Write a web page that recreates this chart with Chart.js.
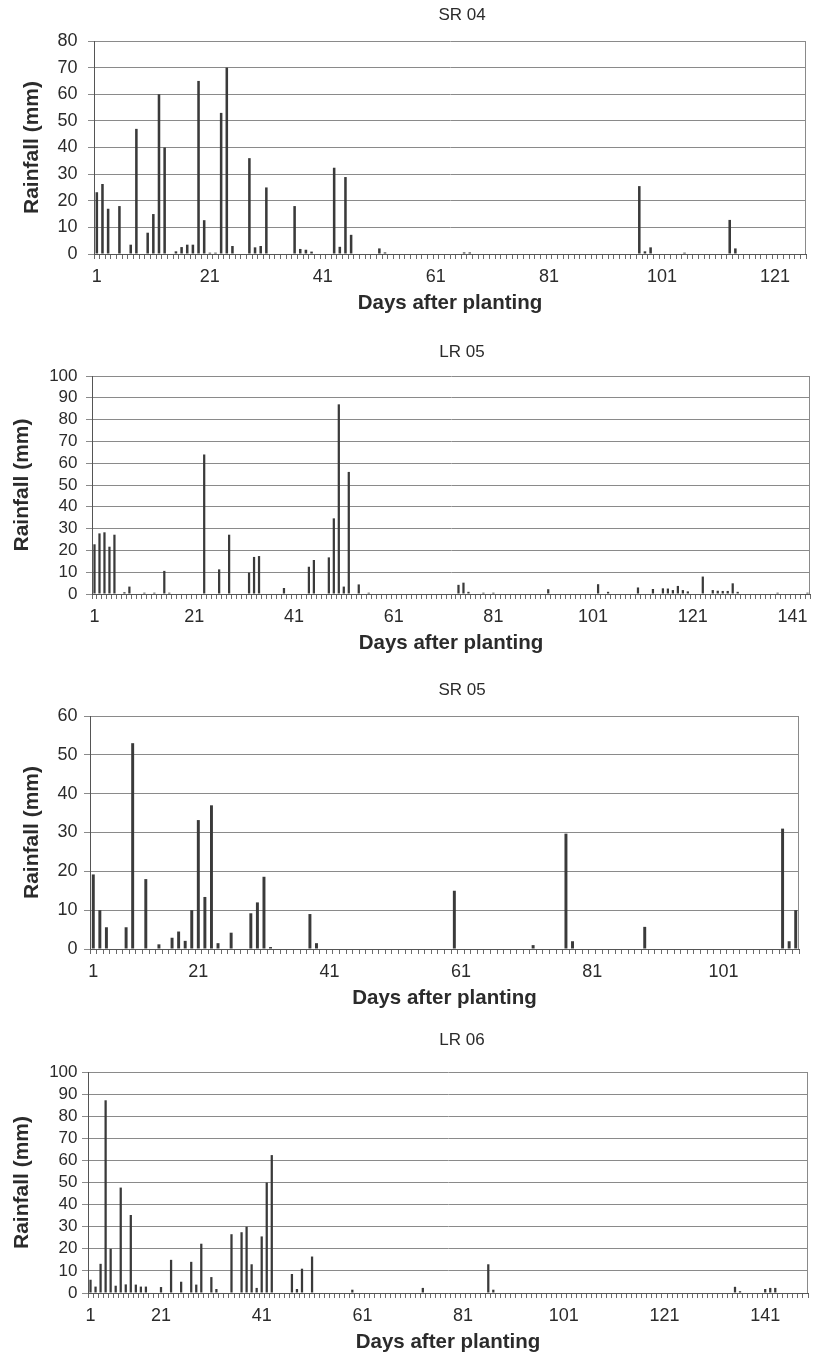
<!DOCTYPE html>
<html lang="en">
<head>
<meta charset="utf-8">
<title>Rainfall (mm) by days after planting</title>
<script src="https://cdn.jsdelivr.net/npm/chart.js@4.4.1/dist/chart.umd.min.js"></script>
<style>
  html, body { margin: 0; padding: 0; background: #ffffff; }
  #page { position: relative; width: 818px; height: 1355px; overflow: hidden; }
  .panel { position: absolute; left: 0; width: 818px; }
</style>
</head>
<body>
<div id="page"></div>
<script>
'use strict';

// ── Data: rainy days and rainfall (mm) ──
const TICK_DAYS = [1, 21, 41, 61, 81, 101, 121, 141];

// SR 04
const sr04Days = [1, 2, 3, 5, 7, 8, 10, 11, 12, 13, 15, 16, 17, 18, 19, 20, 21, 22, 23, 24,
                  25, 28, 29, 30, 31, 36, 37, 38, 39, 43, 44, 45, 46, 51, 52, 66, 67, 97, 98, 99,
                  105, 113, 114];
const sr04Rain = [23.2, 26.3, 17, 18, 3.5, 47, 8, 15, 60, 40, 1, 2.6, 3.5, 3.5, 65, 12.7, 0.5, 0.5, 53, 70,
                  3, 36, 2.5, 3, 25, 18, 1.9, 1.6, 0.9, 32.4, 2.7, 28.9, 7.2, 2.1, 0.6, 0.6, 0.6, 25.5, 1, 2.5,
                  0.5, 12.8, 2.1];
const sr04Gaps = [];

// LR 05
const lr05Days = [1, 2, 3, 4, 5, 7, 8, 11, 13, 15, 16, 23, 26, 28, 32, 33, 34, 39, 44, 45,
                  48, 49, 50, 51, 52, 54, 56, 74, 75, 76, 79, 81, 92, 102, 104, 110, 113, 115, 116, 117,
                  118, 119, 120, 123, 125, 126, 127, 128, 129, 130, 138, 144];
const lr05Rain = [22.8, 27.8, 28.3, 21.7, 27.2, 0.8, 3.4, 0.6, 0.6, 10.6, 0.6, 64, 11.3, 27.2, 9.8, 17, 17.4, 2.75, 12.5, 15.6,
                  16.8, 34.7, 87, 3.4, 56, 4.4, 0.6, 4.2, 5.2, 1, 0.6, 0.6, 2.2, 4.5, 1, 3, 2.3, 2.6, 2.5, 1.8,
                  3.7, 1.8, 1.2, 8, 1.8, 1.5, 1.4, 1.4, 4.9, 1, 0.6, 0.6];
const lr05Gaps = [];

// SR 05
const sr05Days = [1, 2, 3, 6, 7, 9, 11, 13, 14, 15, 16, 21, 22, 23, 24, 26, 29, 30, 31, 32,
                  38, 39, 60, 72, 77, 78, 89, 110, 111, 112];
const sr05Rain = [19.2, 10, 5.6, 5.6, 53, 18, 1.2, 2.9, 4.5, 2.1, 10, 33.2, 13.4, 37, 1.5, 4.2, 9.2, 12, 18.6, 0.5,
                  9, 1.5, 15, 1, 29.7, 2, 5.7, 31, 2, 10];
const sr05Gaps = [17, 18, 19, 20];

// LR 06
const lr06Days = [1, 2, 3, 4, 5, 6, 7, 8, 9, 10, 11, 12, 21, 23, 25, 27, 28, 29, 31, 32,
                  35, 37, 38, 39, 40, 41, 42, 43, 47, 48, 49, 51, 59, 73, 86, 87, 135, 136, 141, 142,
                  143];
const lr06Rain = [6, 2.9, 13.2, 87.2, 20, 3.3, 47.7, 3.9, 35.3, 3.8, 2.9, 2.9, 2.7, 15, 5.1, 14.1, 3.8, 22.3, 7.2, 1.8,
                  26.6, 27.5, 30, 13, 2.3, 25.6, 50, 62.4, 8.6, 1.8, 11, 16.5, 1.5, 2.3, 13, 1.5, 2.8, 0.8, 1.8, 2.3,
                  2.3];
const lr06Gaps = [15, 16, 17, 18, 19, 20];

// ── Series (which arrays go in which panel) ──
const SERIES = [
  { title: 'SR 04', days: sr04Days, rain: sr04Rain, gaps: sr04Gaps, lastDay: 126, yMax: 80 },
  { title: 'LR 05', days: lr05Days, rain: lr05Rain, gaps: lr05Gaps, lastDay: 144, yMax: 100 },
  { title: 'SR 05', days: sr05Days, rain: sr05Rain, gaps: sr05Gaps, lastDay: 112, yMax: 60 },
  { title: 'LR 06', days: lr06Days, rain: lr06Rain, gaps: lr06Gaps, lastDay: 149, yMax: 100 },
];

// ── Layout (page px) ──
const LAYOUT = [
  { top: 0,    height: 316, plotTop: 41, left: 94, right: 806, yTitlePad: 20,  yFont: 18 },
  { top: 337,  height: 319, plotTop: 39, left: 92, right: 810, yTitlePad: 9.5, yFont: 17 },
  { top: 675,  height: 336, plotTop: 41, left: 90, right: 799, yTitlePad: 20,  yFont: 18 },
  { top: 1025, height: 330, plotTop: 47, left: 88, right: 808, yTitlePad: 9.5, yFont: 17 },
];

// ── Styles ──
const FONT = '"Liberation Sans", Arial, Helvetica, sans-serif';
const INK  = '#2b2b2b';
const BAR  = '#3a3a3a';
const GRID = '#8a8a8a';
const AXIS = '#555555';

Chart.defaults.font.family = FONT;
Chart.defaults.color = INK;

// right edge of the plot + centred panel title
const panelFrame = {
  id: 'panelFrame',
  afterDraw(chart, args, opts) {
    const { ctx, chartArea: a } = chart;
    ctx.save();
    ctx.strokeStyle = GRID;
    ctx.lineWidth = 1;
    const x = Math.round(a.right) - 0.5;
    ctx.beginPath();
    ctx.moveTo(x, a.top);
    ctx.lineTo(x, a.bottom);
    ctx.stroke();

    ctx.fillStyle = INK;
    ctx.font = '17px ' + FONT;
    ctx.textAlign = 'center';
    ctx.textBaseline = 'middle';
    ctx.fillText(opts.text, opts.x, opts.y);
    ctx.restore();
  }
};

function dayAxis(lastDay, gaps) {
  const out = [];
  for (let d = 1; d <= lastDay; d++) {
    if (!gaps.includes(d)) out.push(d);
  }
  return out;
}

function rainByDay(categories, days, rain) {
  return categories.map(d => {
    const i = days.indexOf(d);
    return i === -1 ? null : rain[i];
  });
}

function makePanel(s, lay) {
  const wrap = document.createElement('div');
  wrap.className = 'panel';
  wrap.style.top = lay.top + 'px';
  wrap.style.height = lay.height + 'px';
  const canvas = document.createElement('canvas');
  canvas.width = 818;
  canvas.height = lay.height;
  wrap.appendChild(canvas);
  document.getElementById('page').appendChild(wrap);

  const labels = dayAxis(s.lastDay, s.gaps);

  return new Chart(canvas, {
    type: 'bar',
    data: {
      labels,
      datasets: [{
        data: rainByDay(labels, s.days, s.rain),
        backgroundColor: BAR,
        borderWidth: 0,
        barPercentage: 0.45,
        categoryPercentage: 1,
      }],
    },
    plugins: [panelFrame],
    options: {
      responsive: false,
      animation: false,
      devicePixelRatio: 1,
      layout: { padding: { top: lay.plotTop, left: 0, right: 818 - lay.right, bottom: 0 } },
      plugins: {
        legend: { display: false },
        tooltip: { enabled: false },
        panelFrame: { text: s.title, x: 462, y: 15 },
      },
      scales: {
        x: {
          afterFit: sc => { sc.height = 62; },
          grid: { drawOnChartArea: false, drawTicks: true, tickLength: 5, color: '#6a6a6a' },
          border: { color: AXIS },
          ticks: {
            autoSkip: false,
            maxRotation: 0,
            minRotation: 0,
            padding: 7,
            font: { size: 18 },
            callback(value) {
              const day = this.getLabelForValue(value);
              return TICK_DAYS.includes(day) ? String(day) : '';
            },
          },
          title: {
            display: true,
            text: 'Days after planting',
            font: { size: 20.5, weight: 'bold' },
            padding: { top: 0, bottom: 0 },
          },
        },
        y: {
          min: 0,
          max: s.yMax,
          afterFit: sc => { sc.width = lay.left; },
          grid: { color: GRID, tickLength: 6 },
          border: { color: AXIS },
          ticks: {
            stepSize: 10,
            autoSkip: false,
            padding: lay.left - 6 - 77.5,
            font: { size: lay.yFont, lineHeight: 1 },
          },
          title: {
            display: true,
            text: 'Rainfall (mm)',
            font: { size: 21, weight: 'bold' },
            padding: { top: lay.yTitlePad, bottom: 0 },
          },
        },
      },
    },
  });
}

SERIES.forEach((s, i) => makePanel(s, LAYOUT[i]));
</script>
</body>
</html>
